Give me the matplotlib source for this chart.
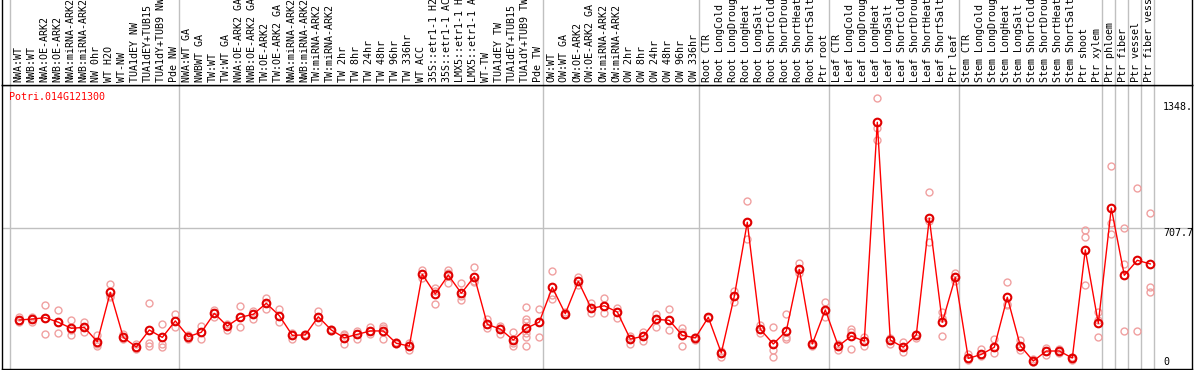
import matplotlib
matplotlib.use("Agg")
import matplotlib.pyplot as plt
import matplotlib.transforms as mtransforms

W, H, DPI = 1194, 370, 100

gene_id = "Potri.014G121300"

labels = [
    "NWA:WT", "NWB:WT", "NWA:OE-ARK2", "NWB:OE-ARK2", "NWA:miRNA-ARK2", "NWB:miRNA-ARK2",
    "NW 0hr", "WT H2O", "WT-NW", "TUA1dEY NW", "TUA1dEY+TUB15", "TUA1dY+TUB9 NW", "Pde NW",
    "NWA:WT GA", "NWBWT GA", "TW:WT", "TW:WT GA", "NWA:OE-ARK2 GA", "NWB:OE-ARK2 GA",
    "TW:OE-ARK2", "TW:OE-ARK2 GA", "NWA:miRNA-ARK2", "NWB:miRNA-ARK2", "TW:miRNA-ARK2",
    "TW:miRNA-ARK2", "TW 2hr", "TW 8hr", "TW 24hr", "TW 48hr", "TW 96hr", "TW 336hr",
    "WT ACC", "35S::etr1-1 H2", "35S::etr1-1 AC", "LMX5::etr1-1 H", "LMX5::etr1-1 A",
    "WT-TW", "TUA1dEY TW", "TUA1dEY+TUB15", "TUA1dY+TUB9 TW", "Pde TW",
    "OW:WT", "OW:WT GA", "OW:OE-ARK2", "OW:OE-ARK2 GA", "OW:miRNA-ARK2", "OW:miRNA-ARK2",
    "OW 2hr", "OW 8hr", "OW 24hr", "OW 48hr", "OW 96hr", "OW 336hr",
    "Root CTR", "Root LongCold", "Root LongDroug", "Root LongHeat", "Root LongSalt",
    "Root ShortCold", "Root ShortDrou", "Root ShortHeat", "Root ShortSalt", "Ptr root",
    "Leaf CTR", "Leaf LongCold", "Leaf LongDroug", "Leaf LongHeat", "Leaf LongSalt",
    "Leaf ShortCold", "Leaf ShortDrou", "Leaf ShortHeat", "Leaf ShortSalt", "Ptr leaf",
    "Stem CTR", "Stem LongCold", "Stem LongDroug", "Stem LongHeat", "Stem LongSalt",
    "Stem ShortCold", "Stem ShortDrou", "Stem ShortHeat", "Stem ShortSalt", "Ptr shoot",
    "Ptr xylem", "Ptr phloem", "Ptr fiber", "Ptr vessel", "Ptr fiber vess",
]

group_sizes = [13, 28, 12, 10, 10, 11, 1, 1, 1, 1]

means = [
    222, 227, 234, 210, 178, 183, 107, 368, 130, 79, 169, 130, 217,
    134, 157, 257, 190, 236, 252, 310, 245, 141, 143, 239, 169, 128, 146, 164, 164, 99, 84,
    463, 359, 459, 363, 451, 199, 174, 116, 178, 211,
    394, 255, 426, 283, 297, 264, 121, 136, 225, 220, 141, 127,
    236, 48, 347, 738, 173, 95, 164, 489, 95, 275,
    84, 137, 110, 1266, 116, 78, 143, 759, 210, 447,
    19, 40, 78, 342, 86, 5, 58, 58, 21, 592, 204,
    813, 458, 537, 518,
]

replicates = [
    [239, 222, 213], [239, 227, 213], [299, 234, 146], [275, 210, 151], [222, 169, 143],
    [213, 183, 157], [143, 95, 83], [410, 349, 345], [146, 130, 120], [95, 79, 67],
    [310, 102, 84], [199, 95, 78], [252, 217, 183],
    [143, 134, 121], [190, 157, 121], [275, 257, 239], [199, 190, 169], [296, 236, 183],
    [271, 252, 227], [340, 310, 280], [280, 245, 213], [155, 141, 124], [150, 143, 136],
    [271, 239, 213], [174, 169, 164], [148, 140, 93], [164, 146, 121], [187, 164, 150],
    [190, 181, 121], [104, 99, 95], [102, 84, 63],
    [486, 463, 442], [389, 375, 306], [486, 472, 416], [416, 350, 327], [502, 430, 424],
    [225, 199, 181], [190, 180, 148], [157, 116, 100, 84],
    [292, 229, 213, 187, 151, 134, 84], [282, 211, 134],
    [482, 354, 331], [262, 255, 248], [451, 426, 405], [310, 283, 260], [340, 297, 257],
    [285, 264, 231], [139, 121, 95], [160, 136, 112], [254, 225, 183], [278, 220, 169],
    [178, 160, 84], [134, 127, 118],
    [240, 236, 232], [58, 48, 28], [377, 347, 317], [850, 738, 650], [195, 173, 151],
    [183, 63, 28], [252, 134, 120], [521, 489, 468], [102, 95, 84], [318, 270, 239],
    [95, 84, 63], [176, 160, 67], [130, 110, 84], [1393, 1234, 1172], [125, 116, 95],
    [107, 78, 54], [150, 143, 125], [896, 745, 635], [262, 230, 139], [468, 447, 426],
    [42, 19, 10], [67, 40, 30], [121, 78, 46], [421, 306, 300], [116, 80, 63],
    [15, 2, 0], [76, 58, 37], [67, 58, 48], [28, 21, 12], [697, 658, 407],
    [262, 220, 130], [1035, 732, 676], [706, 516, 164], [917, 164], [785, 394, 370],
]

y_tick_values = [0, 707.7, 1348]
y_tick_labels = ["0", "707.7", "1348."]

# ---------------------------------------------------------------- layout
plt.rcParams["font.family"] = ["DejaVu Sans Mono"]
FS = 7.2
RED = "#ff0000"
PINK = "#f0a0a0"
GRID = "#c0c0c0"

fig = plt.figure(figsize=(W / DPI, H / DPI), dpi=DPI)
fig.patch.set_facecolor("white")

def fig_rect(x0, y0, x1, y1):
    return [x0 / W, 1 - y1 / H, (x1 - x0) / W, (y1 - y0) / H]

# pixel x of column i is 19.3 + 13 i
px0, px1 = 1.5, 1191.5
xlim = ((px0 - 19.3) / 13.0, (px1 - 19.3) / 13.0)
per_px = 707.7 / 134.0
ylim = (-(368.5 - 362) * per_px, (362 - 85) * per_px)

ax = fig.add_axes(fig_rect(px0, 85, px1, 368.5))
hx = fig.add_axes(fig_rect(px0, 0, px1, 85))

for a in (ax, hx):
    a.set_xlim(*xlim)
    a.set_xticks([])
    a.set_yticks([])
    for s in a.spines.values():
        s.set_color("black")
        s.set_linewidth(1.0)
ax.set_ylim(*ylim)
hx.set_ylim(0, 85)
hx.spines["top"].set_visible(False)

# separators between groups
bounds = [0]
for g in group_sizes:
    bounds.append(bounds[-1] + g)
for b in bounds:
    xb = b - 0.715
    ax.axvline(xb, color=GRID, lw=1.0, zorder=1)
    hx.axvline(xb, color=GRID, lw=1.0, zorder=1)

ax.axhline(707.7, color=GRID, lw=1.0, zorder=1)

# replicates
for i, reps in enumerate(replicates):
    ax.plot([i] * len(reps), reps, linestyle="none", marker="o", markersize=5,
            markerfacecolor="none", markeredgecolor=PINK, markeredgewidth=1.0, zorder=2)

# means
xs = list(range(len(means)))
ax.plot(xs, means, color=RED, lw=1.0, zorder=3)
ax.plot(xs, means, linestyle="none", marker="o", markersize=5.5,
        markerfacecolor="none", markeredgecolor="#e00000", markeredgewidth=1.5, zorder=4)

# header labels
for i, lab in enumerate(labels):
    hx.text(i - 0.1, 2.5, lab, rotation=90, ha="center", va="bottom",
            fontsize=FS, color="black", clip_on=True)

# gene title
ax.text((9 - px0) / (px1 - px0), 1 - (97 - 85) / (368.5 - 85), gene_id,
        transform=ax.transAxes, ha="left", va="center", fontsize=FS, color=RED)

# y tick labels inside the plot at right
tx = (1163 - px0) / (px1 - px0)
trans = mtransforms.blended_transform_factory(ax.transAxes, ax.transData)
for v, lab in zip(y_tick_values, y_tick_labels):
    va = "top" if lab == "707.7" else "center"
    ax.text(tx, v, lab, transform=trans, ha="left", va=va, fontsize=FS, color="black")

fig.savefig("out.png", dpi=DPI)
